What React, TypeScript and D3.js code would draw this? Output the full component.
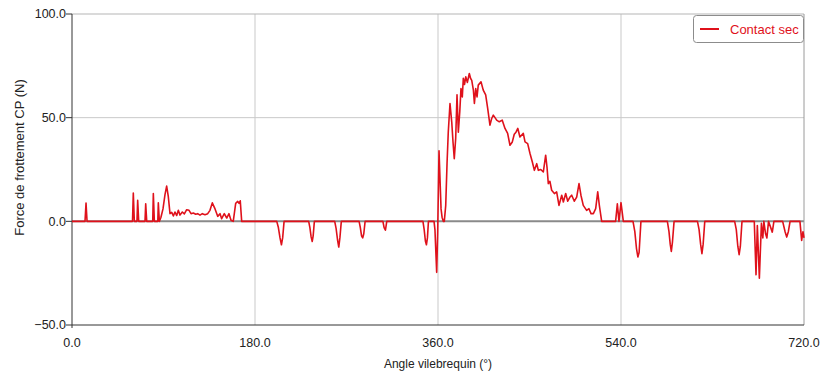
import React from "react";
import * as d3 from "d3";

// Crank angle (°) and dry-contact friction force (N)
const angle: number[] = [
  0, 12.8, 13.8, 14.8,
  59.5, 60.3, 61.3, 63.9, 64.6, 65.6, 71.8, 72.5, 73.5, 79.4, 80.0, 81.0, 84.4, 84.9, 85.9,
  87.5, 89.5, 91.5, 93.1, 94.7, 96.4, 98.1, 99.7, 101.3, 103.0, 104.6, 106.2, 108.5, 110.5,
  112.8, 115.1, 117.1, 119.3, 121.7, 123.6, 125.9, 128.2, 130.8, 133.5, 135.7, 138.0, 140.7,
  143.3, 145.6, 147.2, 149.8, 152.2, 154.4, 156.4, 158.6, 161.0, 163.0, 164.3, 165.5, 166.9,
  201.4, 203.0, 204.6, 206.0, 207.2, 208.6,
  232.8, 234.0, 235.2, 236.3, 237.2, 238.4,
  258.4, 259.8, 261.2, 262.4, 263.5, 264.9,
  282.4, 283.6, 284.8, 285.9, 287.0, 288.3,
  305.8, 307.0, 308.3, 309.6,
  345.2, 346.4, 347.6, 348.6, 349.6, 350.6,
  356.1, 357.0, 358.7, 359.7, 361.0, 362.0, 363.0, 364.0, 365.2, 366.2, 367.6, 368.9, 370.1,
  371.8, 373.5, 374.8, 376.0, 377.4, 378.7, 380.0, 381.4, 382.6, 383.9, 384.9, 386.1, 387.3,
  388.9, 390.8, 392.0, 393.2, 394.8, 395.8, 397.1, 398.4, 399.6, 402.3, 404.5, 406.9, 408.9,
  411.1, 412.8, 414.4, 416.1, 417.7, 420.3, 423.2, 425.9, 428.5, 430.8, 433.1, 435.0, 436.7,
  438.5, 440.6, 443.9, 445.6, 448.2, 450.5, 452.8, 454.8, 457.1, 458.7, 461.1, 463.6, 465.9,
  467.2, 468.5, 470.1, 471.8, 474.5, 476.7, 479.0, 481.7, 483.3, 485.6, 487.6, 489.8, 491.5,
  494.1, 496.4, 498.7, 500.6, 502.9, 506.2, 508.5, 510.5, 512.8, 515.1, 517.1, 518.7, 521.0,
  534.7, 536.4, 538.0, 540.0, 542.3,
  551.8, 553.6, 555.2, 556.6, 557.8, 559.6,
  585.6, 587.2, 588.4, 589.5, 590.6, 592.2,
  615.2, 616.8, 618.3, 619.6, 620.8, 622.4,
  651.8, 653.4, 654.9, 656.2, 657.4, 659.0,
  671.1, 672.8, 674.1, 676.1, 678.1, 679.5, 680.5, 682.2, 683.5, 685.1, 688.8, 690.4, 692.4,
  699.0, 701.4, 703.0, 704.6, 706.3, 716.0, 717.7, 719.0, 720.0,
];

const force: number[] = [
  0, 0, 8.8, 0,
  0, 13.7, 0, 0, 10.1, 0, 0, 8.5, 0, 0, 13.4, 0, 0, 8.9, 0,
  2, 6, 13, 17, 12, 3.7, 4.3, 2.6, 4.5, 2.8, 5.3, 3, 4.5, 3.6,
  5.6, 5.3, 3.7, 4, 3.4, 3.7, 3, 3.7, 3.2, 3.7, 5.3, 8.9, 6,
  2.4, 3.7, 1.3, 3.7, 1.6, 3.7, 0.5, 0, 8.7, 9.6, 8.7, 9.9, 0,
  0, -3, -8, -11.3, -8, 0,
  0, -3, -7.5, -9.7, -7, 0,
  0, -3.5, -9, -12.4, -8, 0,
  0, -3, -7, -8, -6, 0,
  0, -3, -4.3, 0,
  0, -4, -9.5, -11.3, -8, 0,
  0, -4, -24.6, -5, 34, 20, 6, 2, 0, 0, 7.7, 28, 43,
  56.8, 48, 38, 30.2, 40, 61, 43, 52.8, 64, 60, 69, 66, 69.7,
  67, 71.3, 69, 68, 63.3, 56.9, 64, 60, 65.7, 67.3, 63.3, 61, 54.4,
  46.4, 49.6, 51.2, 50, 48.8, 48, 48.8, 44.8, 42.4, 36.7, 38.3, 42, 43,
  44.8, 40.7, 42.4, 38.3, 37.5, 32.7, 28.6, 24.6, 27.8, 24.6, 25, 23.8, 31.9,
  26.2, 18.2, 19.3, 15, 13.4, 14.2, 7.7, 12.6, 9.3, 13.4, 9.7, 11.7, 12.6,
  9.7, 11.7, 18.2, 12.6, 7.7, 5.3, 6.1, 3.7, 3.7, 6.1, 14.2, 7.7, 0,
  0, 8.5, 0, 9, 0,
  0, -5, -13, -17.2, -15, 0,
  0, -5, -11, -14.5, -10, 0,
  0, -4, -11, -15.6, -11, 0,
  0, -4, -12, -16.1, -12, 0,
  0, -25.8, -2, -27.4, -1, -8, 0, -6, -8, 0, -5.2, 0, 0,
  0, -5, -7.6, -5, 0, 0, -9.2, -5, -8,
];

const xTicks: number[] = [0, 180, 360, 540, 720];
const yTicks: number[] = [-50, 0, 50, 100];
const seriesName = "Contact sec";
const xTitle = "Angle vilebrequin (°)";
const yTitle = "Force de frottement CP (N)";

const W = 820;
const H = 376;
const M = { left: 72, right: 16, top: 14, bottom: 51 };
const FONT = "'Liberation Sans', Arial, sans-serif";
const RED = "#df111b";

export default function App() {
  const x = d3.scaleLinear().domain([0, 720]).range([M.left, W - M.right]);
  const y = d3.scaleLinear().domain([-50, 100]).range([H - M.bottom, M.top]);
  const pts = angle.map((a, i) => [a, force[i]] as [number, number]);
  const line = d3
    .line<[number, number]>()
    .x((d) => x(d[0]))
    .y((d) => y(d[1]));
  const fmt = d3.format(".1f");
  const x0 = x(0);
  const x1 = x(720);
  const yTop = y(100);
  const yBot = y(-50);

  return (
    <div style={{ position: "fixed", left: 0, top: 0 }}>
      <svg width={W} height={H} style={{ display: "block", background: "#fff" }}>
        {/* vertical grid */}
        {xTicks.slice(1, -1).map((t) => (
          <line key={"gx" + t} x1={x(t)} x2={x(t)} y1={yTop} y2={yBot} stroke="#c9c9c9" strokeWidth={1} />
        ))}
        {/* horizontal grid */}
        <line x1={x0} x2={x1} y1={y(50)} y2={y(50)} stroke="#c9c9c9" strokeWidth={1} />
        <line x1={x0} x2={x1} y1={y(0)} y2={y(0)} stroke="#8a8a8a" strokeWidth={2} />
        {/* frame */}
        <line x1={x0} x2={x1} y1={yTop} y2={yTop} stroke="#b5b5b5" strokeWidth={1} />
        <line x1={x1} x2={x1} y1={yTop} y2={yBot} stroke="#9a9a9a" strokeWidth={1} />
        <line x1={x0} x2={x1} y1={yBot} y2={yBot} stroke="#333" strokeWidth={1} />
        <line x1={x0} x2={x0} y1={yTop} y2={yBot + 3} stroke="#333" strokeWidth={1} />

        {/* data */}
        <path d={line(pts) ?? ""} fill="none" stroke={RED} strokeWidth={1.6} strokeLinejoin="round" />

        {/* y axis ticks */}
        {yTicks.map((t) => (
          <g key={"yt" + t}>
            <line x1={x0 - 6} x2={x0} y1={y(t)} y2={y(t)} stroke="#333" strokeWidth={1} />
            <text x={x0 - 6} y={y(t)} dy="0.35em" textAnchor="end" fontFamily={FONT} fontSize={12.5} fill="#222">
              {fmt(t)}
            </text>
          </g>
        ))}
        {/* x axis ticks */}
        {xTicks.map((t) => (
          <text key={"xt" + t} x={x(t)} y={yBot + 22} textAnchor="middle" fontFamily={FONT} fontSize={12.5} fill="#222">
            {fmt(t)}
          </text>
        ))}

        {/* titles */}
        <text x={(x0 + x1) / 2} y={H - 8} textAnchor="middle" fontFamily={FONT} fontSize={12} fill="#222">
          {xTitle}
        </text>
        <text
          transform={`translate(24,${(yTop + yBot) / 2 - 12}) rotate(-90)`}
          textAnchor="middle"
          fontFamily={FONT}
          fontSize={13}
          fill="#222"
        >
          {yTitle}
        </text>

        {/* legend */}
        <g transform={`translate(${x1 - 111},${yTop + 1})`}>
          <rect x={0.5} y={0.5} width={110} height={27} rx={3} fill="#fff" stroke="#8c8c8c" />
          <line x1={7} x2={26} y1={14} y2={14} stroke={RED} strokeWidth={2} />
          <text x={37} y={14} dy="0.35em" fontFamily={FONT} fontSize={13} fill={RED}>
            {seriesName}
          </text>
        </g>
      </svg>
    </div>
  );
}
